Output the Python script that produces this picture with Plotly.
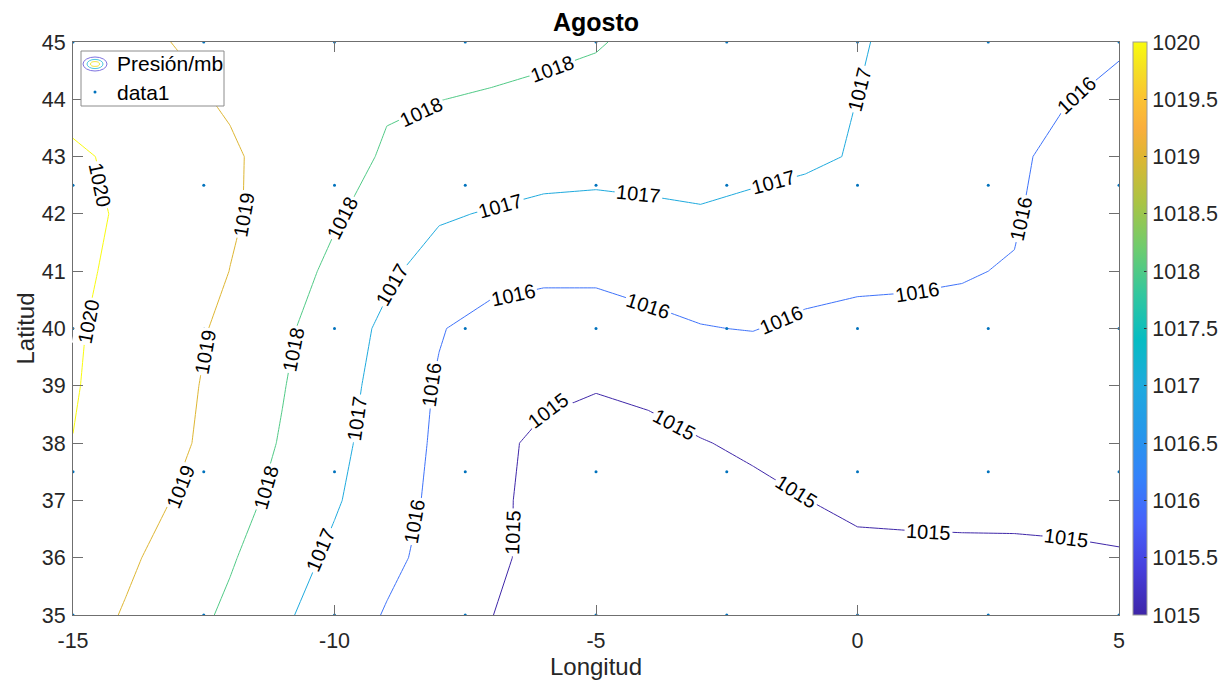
import plotly.graph_objects as go

# Grid of the pressure field (1 degree spacing)
lon = list(range(-15, 6))          # -15 ... 5
lat = list(range(35, 46))          # 35 ... 45

# Sea-level pressure (mb), one row per latitude from 35N to 45N, columns from 15W to 5E
p35 = [1019.45, 1018.93, 1018.40, 1017.83, 1017.15, 1016.52, 1015.93, 1015.47, 1015.02, 1014.52, 1014.40,
       1014.35, 1014.35, 1014.40, 1014.45, 1014.50, 1014.50, 1014.50, 1014.55, 1014.60, 1014.65]
p36 = [1019.70, 1019.17, 1018.63, 1018.09, 1017.45, 1016.81, 1016.22, 1015.69, 1015.20, 1014.70, 1014.60,
       1014.55, 1014.55, 1014.60, 1014.70, 1014.86, 1014.82, 1014.83, 1014.84, 1014.87, 1014.93]
p37 = [1019.85, 1019.50, 1018.92, 1018.35, 1017.74, 1017.10, 1016.42, 1015.78, 1015.23, 1014.68, 1014.50,
       1014.55, 1014.70, 1014.85, 1014.99, 1015.12, 1015.20, 1015.22, 1015.22, 1015.25, 1015.30]
p38 = [1019.99, 1019.65, 1019.17, 1018.55, 1017.93, 1017.26, 1016.54, 1015.84, 1015.29, 1014.75, 1014.67,
       1014.80, 1014.97, 1015.10, 1015.24, 1015.30, 1015.35, 1015.35, 1015.35, 1015.35, 1015.35]
p39 = [1020.05, 1019.70, 1019.24, 1018.65, 1018.05, 1017.37, 1016.66, 1015.90, 1015.55, 1015.26, 1015.05,
       1015.15, 1015.30, 1015.43, 1015.50, 1015.50, 1015.50, 1015.50, 1015.50, 1015.45, 1015.40]
p40 = [1020.08, 1019.75, 1019.35, 1018.76, 1018.18, 1017.50, 1016.80, 1016.07, 1015.58, 1015.39, 1015.39,
       1015.79, 1015.97, 1016.03, 1015.82, 1015.75, 1015.80, 1015.89, 1015.80, 1015.65, 1015.50]
p41 = [1020.09, 1019.90, 1019.59, 1018.99, 1018.41, 1017.80, 1017.17, 1016.58, 1016.40, 1016.25, 1016.25,
       1016.30, 1016.35, 1016.35, 1016.35, 1016.20, 1016.12, 1016.03, 1015.97, 1015.80, 1015.60]
p42 = [1020.26, 1019.88, 1019.50, 1019.12, 1018.64, 1018.10, 1017.60, 1017.11, 1016.93, 1016.72, 1016.67,
       1016.84, 1016.95, 1016.88, 1016.84, 1016.75, 1016.60, 1016.40, 1016.05, 1015.74, 1015.50]
p43 = [1020.15, 1019.80, 1019.46, 1019.11, 1018.71, 1018.28, 1017.92, 1017.68, 1017.60, 1017.52, 1017.45,
       1017.35, 1017.25, 1017.15, 1017.07, 1016.97, 1016.75, 1016.50, 1016.22, 1015.60, 1015.35]
p44 = [1019.68, 1019.43, 1019.17, 1018.91, 1018.63, 1018.35, 1018.07, 1018.01, 1017.93, 1017.86, 1017.87,
       1017.75, 1017.60, 1017.45, 1017.25, 1016.995, 1016.75, 1016.50, 1016.30, 1016.04, 1015.70]
p45 = [1019.45, 1019.20, 1018.97, 1018.86, 1018.74, 1018.62, 1018.50, 1018.38, 1018.27, 1018.15, 1018.03,
       1017.90, 1017.65, 1017.45, 1017.27, 1017.10, 1016.70, 1016.55, 1016.45, 1016.30, 1016.15]
pressure = [p35, p36, p37, p38, p39, p40, p41, p42, p43, p44, p45]

# Isobar levels
levels = [1015, 1016, 1017, 1018, 1019, 1020]

# Observation points (2.5 degree grid)
obs_lon = [-15, -12.5, -10, -7.5, -5, -2.5, 0, 2.5, 5]
obs_lat = [35, 37.5, 40, 42.5, 45]

# Colour range / tick labels of the colour bar
cmin, cmax = 1015, 1020
cbar_ticks = [1015, 1015.5, 1016, 1016.5, 1017, 1017.5, 1018, 1018.5, 1019, 1019.5, 1020]

# Axis ticks
x_ticks = [-15, -10, -5, 0, 5]
y_ticks = list(range(35, 46))

# Legend entries
legend_names = ["Presión/mb", "data1"]

# Inline isobar labels: (level, lon, lat, text rotation in degrees)
contour_labels = [
    (1020, -14.48, 42.51, 78), (1020, -14.71, 40.12, -79),
    (1019, -11.73, 41.98, -80), (1019, -12.47, 39.59, -80), (1019, -12.95, 37.24, -68),
    (1018, -8.34, 43.78, -25), (1018, -5.84, 44.53, -20), (1018, -9.85, 41.93, -63),
    (1018, -10.79, 39.63, -79), (1018, -11.31, 37.24, -74),
    (1017, -8.90, 40.76, -60), (1017, -9.57, 38.44, -82), (1017, -10.27, 36.14, -67),
    (1017, -6.83, 42.14, -16), (1017, -4.18, 42.34, 6), (1017, -1.60, 42.56, -15),
    (1017, 0.03, 44.17, -76),
    (1016, -8.48, 36.63, -80), (1016, -8.15, 39.02, -82), (1016, -6.58, 40.59, -12),
    (1016, -4.00, 40.40, 18), (1016, -1.46, 40.15, -23), (1016, 1.15, 40.64, -9),
    (1016, 3.14, 41.92, -78), (1016, 4.19, 44.08, -43),
    (1015, -6.58, 36.44, -88), (1015, -5.90, 38.57, -37), (1015, -3.49, 38.32, 28),
    (1015, -1.16, 37.15, 32), (1015, 1.35, 36.45, 3), (1015, 4.00, 36.35, 7.5),
]

parula = [
    [0.00, "rgb(62,38,168)"],
    [0.08, "rgb(70,62,220)"],
    [0.16, "rgb(71,97,250)"],
    [0.24, "rgb(52,130,250)"],
    [0.32, "rgb(38,152,234)"],
    [0.40, "rgb(30,170,222)"],
    [0.48, "rgb(6,188,194)"],
    [0.56, "rgb(50,199,158)"],
    [0.64, "rgb(110,204,110)"],
    [0.72, "rgb(170,196,68)"],
    [0.80, "rgb(222,182,50)"],
    [0.85, "rgb(250,174,60)"],
    [0.90, "rgb(251,194,50)"],
    [0.95, "rgb(245,222,36)"],
    [1.00, "rgb(249,251,14)"],
]

FONT = "Liberation Sans, Arial, Helvetica, sans-serif"
TXT = "#262626"
AX = "#6f6f6f"

# Figure geometry (pixels) used for paper-coordinate placement
W, H = 1223, 688
ML, MR, MT, MB = 73, 104, 42, 73
PW, PH = W - ML - MR, H - MT - MB


def px(xp):
    return (xp - ML) / PW


def py(yp):
    return (H - MB - yp) / PH


fig = go.Figure()

# Isobars
fig.add_trace(go.Contour(
    x=lon, y=lat, z=pressure,
    name=legend_names[0],
    showlegend=False,
    colorscale=parula, zmin=cmin, zmax=cmax, zauto=False,
    autocontour=False,
    contours=dict(start=levels[0], end=levels[-1], size=levels[1] - levels[0],
                  coloring="lines", showlabels=False),
    line=dict(width=1, smoothing=0),
    showscale=False,
    hoverinfo="skip",
))

# Observation points
pts_x = [x for y in obs_lat for x in obs_lon]
pts_y = [y for y in obs_lat for x in obs_lon]
fig.add_trace(go.Scatter(
    x=pts_x, y=pts_y, mode="markers", name=legend_names[1], showlegend=False,
    marker=dict(color="#0072BD", size=3),
    hoverinfo="skip",
))

# Colour bar
fig.add_trace(go.Scatter(
    x=[-15, -15], y=[35, 35], mode="markers", showlegend=False, hoverinfo="skip",
    marker=dict(color=[cmin, cmax], colorscale=parula, cmin=cmin, cmax=cmax, size=1, opacity=0,
                showscale=True,
                colorbar=dict(
                    x=1.0134, xanchor="left", y=0.5, yanchor="middle",
                    len=1, lenmode="fraction", thickness=14,
                    xpad=0, ypad=0, outlinewidth=1, outlinecolor="#9a9a9a",
                    tickvals=cbar_ticks, ticktext=[f"{t:g}" for t in cbar_ticks],
                    ticks="inside", ticklen=3, tickcolor="#333333",
                    tickfont=dict(family=FONT, size=21.5, color=TXT),
                ))
))

# Inline labels with a white box that opens a gap in the line
for lev, lx, ly, ang in contour_labels:
    fig.add_annotation(
        x=lx, y=ly, xref="x", yref="y", text=f"{lev}", showarrow=False,
        textangle=ang, xanchor="center", yanchor="middle",
        bgcolor="white", borderpad=1,
        font=dict(family=FONT, size=20, color="black"),
    )

# Legend box: frame, contour icon (nested ellipses), point icon and entry texts
shapes = [
    dict(type="rect", xref="paper", yref="paper", layer="above",
         x0=px(81), x1=px(224), y0=py(106), y1=py(51),
         fillcolor="white", line=dict(color="#8c8c8c", width=1)),
]
icon_cx, row1_y, row2_y = 95, 64, 92
for rx, ry, col in [(12, 7, "#7f73e0"), (8, 4.6, "#4ec8e0"), (4.5, 2.4, "#f2e640")]:
    shapes.append(dict(
        type="circle", xref="paper", yref="paper", layer="above",
        x0=px(icon_cx - rx), x1=px(icon_cx + rx), y0=py(row1_y + ry), y1=py(row1_y - ry),
        line=dict(color=col, width=1), fillcolor="rgba(0,0,0,0)",
    ))
shapes.append(dict(
    type="circle", xref="paper", yref="paper", layer="above",
    x0=px(icon_cx - 1.5), x1=px(icon_cx + 1.5), y0=py(row2_y + 1.5), y1=py(row2_y - 1.5),
    line=dict(width=0), fillcolor="#0072BD",
))
for name, ry in zip(legend_names, [row1_y, row2_y]):
    fig.add_annotation(
        x=px(115), y=py(ry), xref="paper", yref="paper", text=name, showarrow=False,
        xanchor="left", yanchor="middle",
        font=dict(family=FONT, size=21, color="black"),
    )

# Y-axis title
fig.add_annotation(
    x=px(25), y=0.5, xref="paper", yref="paper", text="Latitud", showarrow=False,
    textangle=-90, xanchor="center", yanchor="middle",
    font=dict(family=FONT, size=24, color=TXT),
)

axis_common = dict(
    showgrid=False, zeroline=False, showline=True, linecolor=AX, linewidth=1,
    mirror="ticks", ticks="inside", ticklen=10, tickcolor=AX,
    tickfont=dict(family=FONT, size=21.5, color=TXT),
)

fig.update_layout(
    width=W, height=H,
    margin=dict(l=ML, r=MR, t=MT, b=MB, autoexpand=False),
    paper_bgcolor="white", plot_bgcolor="white",
    title=dict(text="<b>Agosto</b>", x=0.4873, xanchor="center", y=0.968, yanchor="middle",
               font=dict(family=FONT, size=25, color="black")),
    xaxis=dict(range=[-15, 5], tickvals=x_ticks, ticktext=[str(t) for t in x_ticks],
               ticklabelstandoff=6,
               title=dict(text="Longitud", font=dict(family=FONT, size=24, color=TXT), standoff=4),
               **axis_common),
    yaxis=dict(range=[35, 45], tickvals=y_ticks, ticktext=[str(t) for t in y_ticks],
               ticklabelstandoff=2,
               **axis_common),
    shapes=shapes,
    showlegend=False,
)

fig.write_html("out.html")
